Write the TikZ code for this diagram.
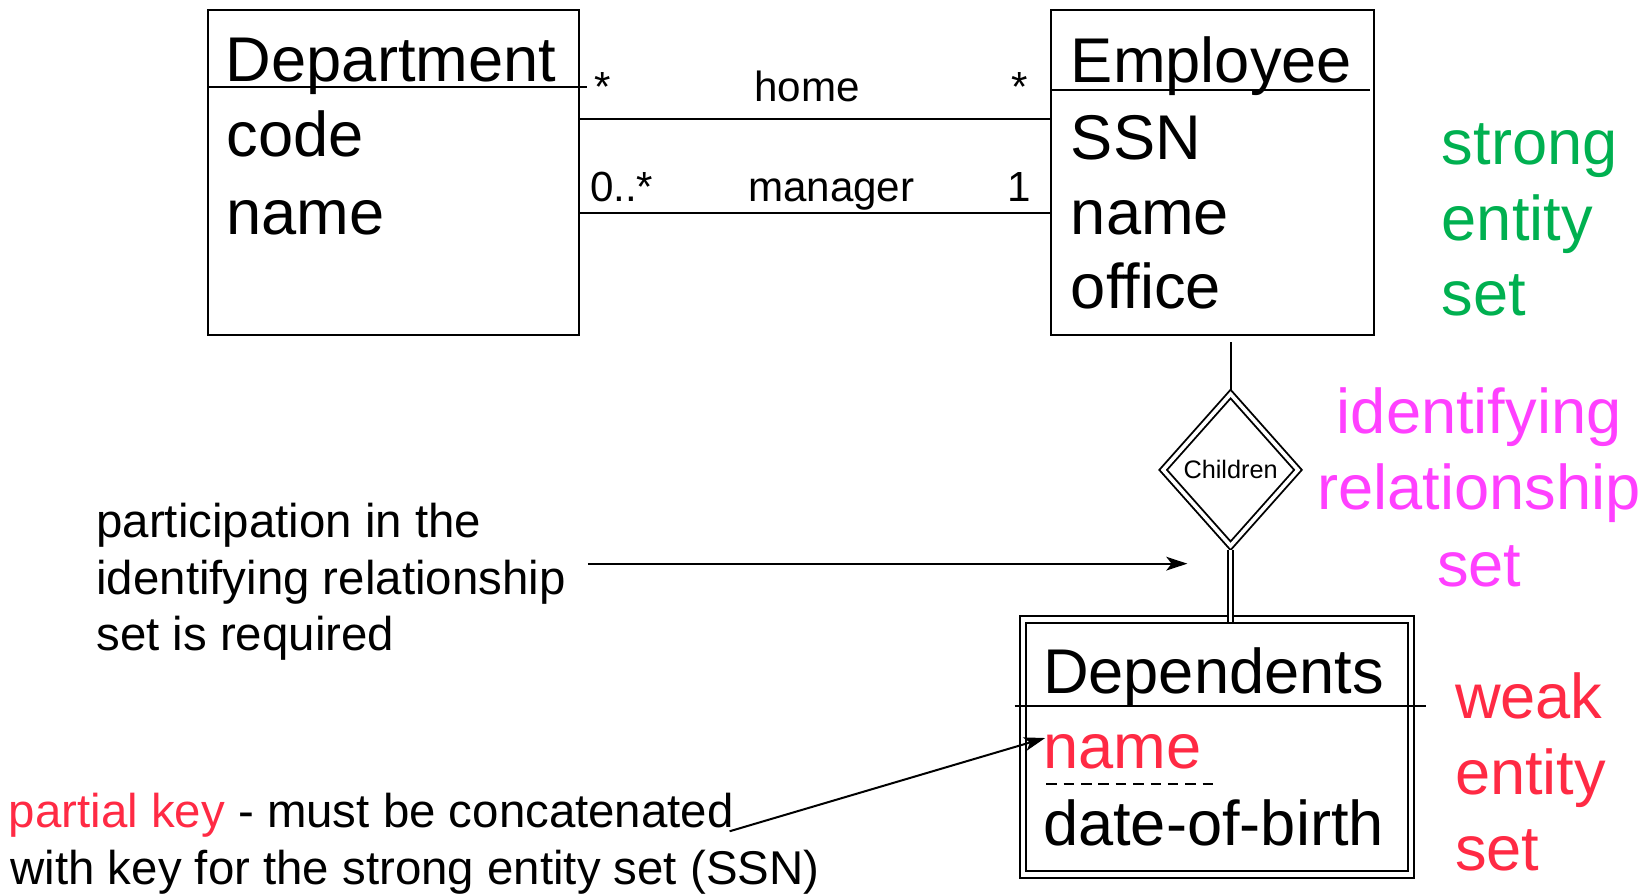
\documentclass[tikz,border=0pt]{standalone}
\usepackage{fontspec}
\setmainfont{Liberation Sans}
\usetikzlibrary{arrows.meta,shapes.geometric}

\definecolor{strongcol}{RGB}{0,176,80}
\definecolor{identcol}{RGB}{255,64,255}
\definecolor{weakcol}{RGB}{255,42,68}

\begin{document}
\begin{tikzpicture}[x=1pt,y=-1pt,
  every node/.style={inner sep=0pt, outer sep=0pt},
  entbox/.style={draw, line width=1.9pt, anchor=north west},
  big/.style={font=\fontsize{60}{72}\selectfont, anchor=base west},
  mult/.style={font=\fontsize{40}{48}\selectfont, anchor=base},
  note/.style={font=\fontsize{45}{54}\selectfont, anchor=base west},
  conn/.style={line width=1.9pt},
  pointer/.style={line width=1.9pt, -{Stealth[length=20pt,width=13pt,inset=5pt]}},
]
\useasboundingbox (0,0) rectangle (1568,848);

% ---- Department entity ----
\node[entbox, minimum width=353pt, minimum height=308.5pt] (dept) at (197,9.5) {};
\draw[conn] (dept.west |- 0,83) -- (557,83);
\node[big] (dtitle) at (214.5,77.5) {Department};
\node[big] (dcode)  at (215,149) {code};
\node[big] (dname)  at (215,223) {name};

% ---- Employee entity ----
\node[entbox, minimum width=306pt, minimum height=308.5pt] (emp) at (998,9.5) {};
\draw[conn] (emp.west |- 0,85.5) -- (1300,85.5);
\node[big] (etitle)  at (1016.5,78.5) {Employee};
\node[big] (essn)    at (1016.5,151) {SSN};
\node[big] (ename)   at (1016.5,223) {name};
\node[big] (eoffice) at (1016.5,293) {office};

% ---- associations between Department and Employee ----
\coordinate (homey) at (0,112.5);
\coordinate (mgry)  at (0,202.5);
\draw[conn] (dept.east |- homey) -- (emp.west |- homey);
\draw[conn] (dept.east |- mgry) -- (emp.west |- mgry);
\node[mult] (hstarl) at (572.5,96.5) {*};
\node[mult] (hlabel) at (766,96.5) {home};
\node[mult] (hstarr) at (968,96.5) {*};
\node[mult, anchor=base west] (mleft) at (560,191.4) {0..*};
\node[mult] (mlabel) at (789,191.4) {manager};
\node[mult] (mright) at (967.5,191.4) {1};

% ---- identifying relationship ----
\node[draw, diamond, double, double distance=3.5pt, line width=1.8pt,
      minimum width=128pt, minimum height=144pt,
      font=\fontsize{24}{28}\selectfont] (dia) at (1168,446) {Children};
\coordinate (stub) at (1168,325);
\draw[conn] (stub) -- ([yshift=4pt]dia.north);

% ---- weak entity Dependents ----
\node[entbox, double, double distance=4.2pt, line width=1.8pt,
      minimum width=368pt, minimum height=242pt] (dep) at (971,588) {};
\draw[conn] (963,670) -- (1353,670);
\node[big] (deptitle) at (990,658.5) {Dependents};
\node[big, text=weakcol] (depname) at (990,729.5) {name};
\draw[line width=1.6pt, dash pattern=on 10pt off 6.5pt] (993,744.4) -- (1158,744.4);
\node[big] (depdob) at (990,802.5) {date-of-birth};

\path (dia.south |- dep.north) coordinate (deptop);
\draw[double, double distance=3pt, line width=1.8pt]
  ([yshift=-4pt]dia.south) -- ([yshift=-2.1pt]deptop);

% ---- side labels ----
\node[big, text=strongcol] (s1) at (1368.5,156) {strong};
\node[big, text=strongcol] (s2) at (1368.5,228) {entity};
\node[big, text=strongcol] (s3) at (1368.5,299.5) {set};

\node[big, anchor=base, text=identcol] (i1) at (1404,411) {identifying};
\node[big, anchor=base, text=identcol] (i2) at (1404,484) {relationship};
\node[big, anchor=base, text=identcol] (i3) at (1404,557) {set};

\node[big, text=weakcol] (w1) at (1381,682) {weak};
\node[big, text=weakcol] (w2) at (1381,754) {entity};
\node[big, text=weakcol] (w3) at (1381,826) {set};

% ---- notes ----
\node[note] (p1) at (91.5,510) {participation in the};
\node[note] (p2) at (91.5,564.5) {identifying relationship};
\node[note] (p3) at (91.5,617) {set is required};
\coordinate (reqfrom) at (558,535);
\coordinate (reqto)   at (1127,535);
\draw[pointer] (reqfrom) -- (reqto);

\node[note] (k1) at (8.5,785) {\textcolor{weakcol}{partial key} - must be concatenated};
\node[note] (k2) at (10,839.5) {with key for the strong entity set (SSN)};
\coordinate (pkfrom) at (692.5,789);
\coordinate (pkto)   at (992,700.5);
\draw[pointer] (pkfrom) -- (pkto);
\end{tikzpicture}
\end{document}
